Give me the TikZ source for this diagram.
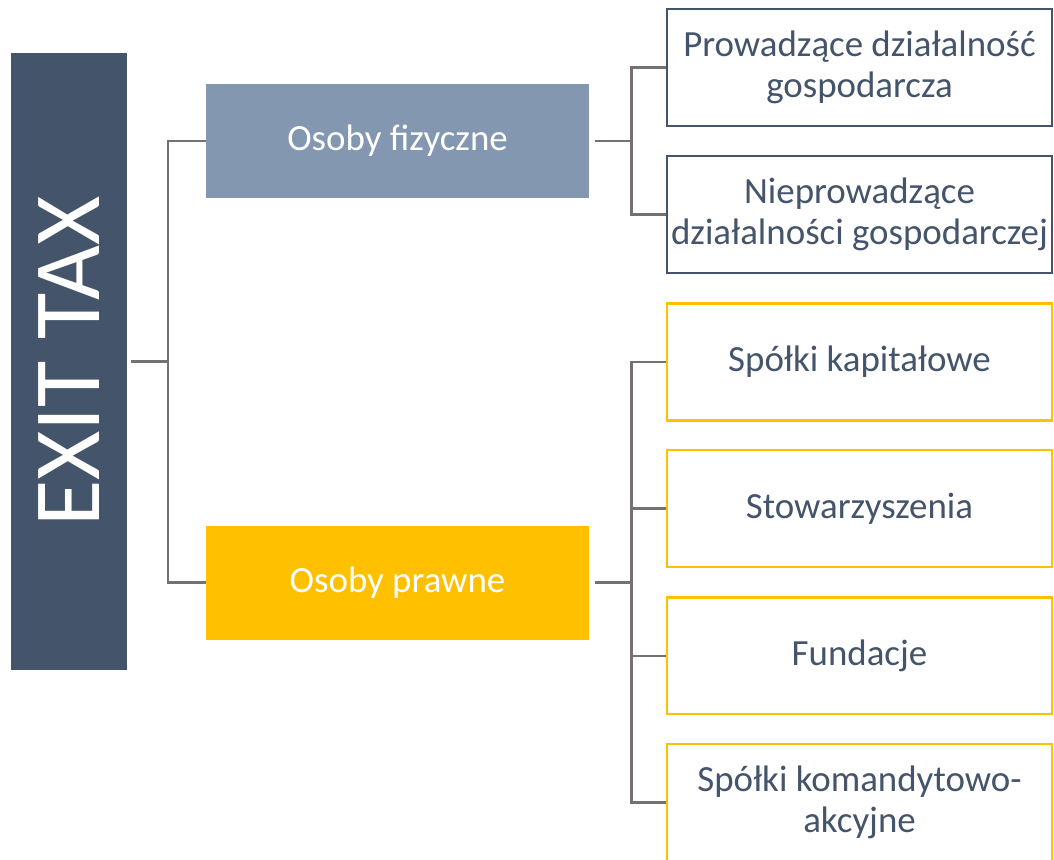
\documentclass[tikz,border=0pt]{standalone}
\usepackage{fontspec}
\setmainfont{Carlito}
\usetikzlibrary{positioning}
\definecolor{slate}{HTML}{44546A}
\definecolor{steel}{HTML}{8497B0}
\definecolor{amber}{HTML}{FFC000}
\definecolor{wire}{HTML}{767171}
\begin{document}
\begin{tikzpicture}[x=0.02cm, y=-0.02cm,
      exitbox/.style={fill=slate, inner sep=0pt, minimum width=2.32cm, minimum height=12.34cm},
      catbox/.style={inner sep=0pt, minimum width=7.66cm, minimum height=2.28cm, text=white, font=\fontsize{21}{24}\selectfont},
      leafbox/.style={draw, line width=1.2pt, fill=white, inner sep=0pt, minimum width=7.7cm, minimum height=2.34cm,
        text=slate, align=center, font=\fontsize{21}{23.3}\selectfont},
      link/.style={draw=wire, line width=1.3pt}
   ]
    \useasboundingbox (0,0) rectangle (1054,859);
    \node[exitbox] (exit) at (69,361.5) {};
    \node[rotate=90, text=white, font=\fontsize{54}{60}\selectfont] at (exit.center) {EXIT TAX};

    \node[catbox, fill=steel] (fiz) at (397.5,141) {Osoby fizyczne};
    \node[catbox, fill=amber] (praw) at (397.5,582.5) {Osoby prawne};

    \node[leafbox, draw=slate] (pro) at (859.5,67.5) {Prowadzące działalność\\gospodarcza};
    \node[leafbox, draw=slate, below of=pro, node distance=2.94cm] (niepro) {Nieprowadzące\\działalności gospodarczej};

    \node[leafbox, draw=amber] (kap) at (859.5,362) {Spółki kapitałowe};
    \node[leafbox, draw=amber, below of=kap, node distance=2.93cm] (stow) {Stowarzyszenia};
    \node[leafbox, draw=amber, below of=stow, node distance=2.95cm] (fund) {Fundacje};
    \node[leafbox, draw=amber, below of=fund, node distance=2.93cm] (koman) {Spółki komandytowo-\\akcyjne};

    \draw[link] ([xshift=2]exit.east) -- ++(37,0) coordinate (hub) |- (fiz.west);
    \draw[link] (hub) |- (praw.west);

    \draw[link] ([xshift=3]fiz.east) -- ++(37,0) coordinate (hubA) |- (pro.west);
    \draw[link] (hubA) |- (niepro.west);

    \draw[link] ([xshift=3]praw.east) -- ++(37,0) coordinate (hubB) |- (kap.west);
    \draw[link] (hubB) |- (stow.west);
    \draw[link] (hubB) |- (fund.west);
    \draw[link] (hubB) |- (koman.west);
\end{tikzpicture}
\end{document}
